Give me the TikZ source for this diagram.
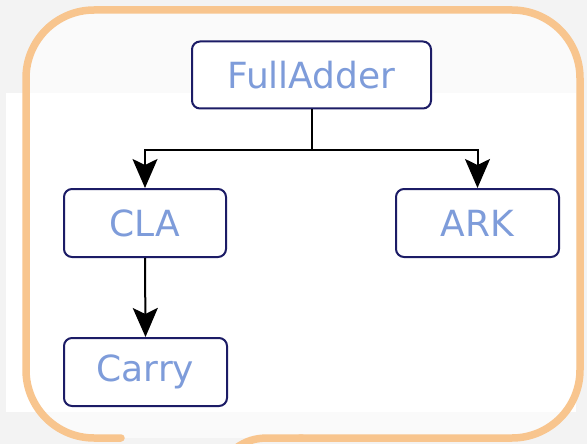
\documentclass[tikz,border=0pt]{standalone}
\usepackage{fontspec}
\setmainfont{DejaVu Sans}
\usetikzlibrary{arrows.meta}
\definecolor{framecol}{HTML}{F8C58E}
\definecolor{boxline}{HTML}{1C1C66}
\definecolor{labelcol}{HTML}{7E9CDA}
\definecolor{pagebg}{HTML}{F3F3F3}
\definecolor{panelbg}{HTML}{FAFAFA}
\tikzset{
  classbox/.style={draw=boxline, line width=2pt, rounded corners=8pt, fill=white,
    inner sep=0pt, text=labelcol, font=\fontsize{36}{40}\selectfont},
  link/.style={draw=black, line width=2pt},
  arrowlink/.style={link, -{Stealth[length=29pt, width=25pt, inset=6pt]}},
  frameline/.style={draw=framecol, line width=7.5pt, line cap=round}
}
\begin{document}
\begin{tikzpicture}[x=1pt, y=-1pt]
  \useasboundingbox (0,0) rectangle (587,444);
  \fill[pagebg] (0,0) rectangle (587,444);
  \fill[panelbg, rounded corners=68pt] (26,438) rectangle (580,10);
  \fill[white] (6,93) rectangle (576,412);

  % speech-bubble frame
  \draw[frameline, rounded corners=68pt]
    (121,438) -- (26,438) -- (26,10) -- (580,10) -- (580,438) -- (300,438);
  \draw[frameline] (302,438) -- (268,438) .. controls (255,438) and (246,441) .. (236,448);

  % class hierarchy
  \node[classbox, minimum width=239pt, minimum height=67pt] (fa) at (311.5,75) {FullAdder};
  \node[classbox, minimum width=162pt, minimum height=68pt] (cla) at (145,223) {CLA};
  \node[classbox, minimum width=163pt, minimum height=68pt] (ark) at (477.5,223) {ARK};
  \node[classbox, minimum width=163pt, minimum height=68pt] (carry) at (145.5,372) {Carry};

  \coordinate (split) at (311.5,150);
  \draw[link] (fa.south) -- (split);
  \draw[arrowlink] (split) -| (cla.north);
  \draw[arrowlink] (split) -| (ark.north);
  \draw[arrowlink] (cla.south) -- (carry.north);
\end{tikzpicture}
\end{document}
